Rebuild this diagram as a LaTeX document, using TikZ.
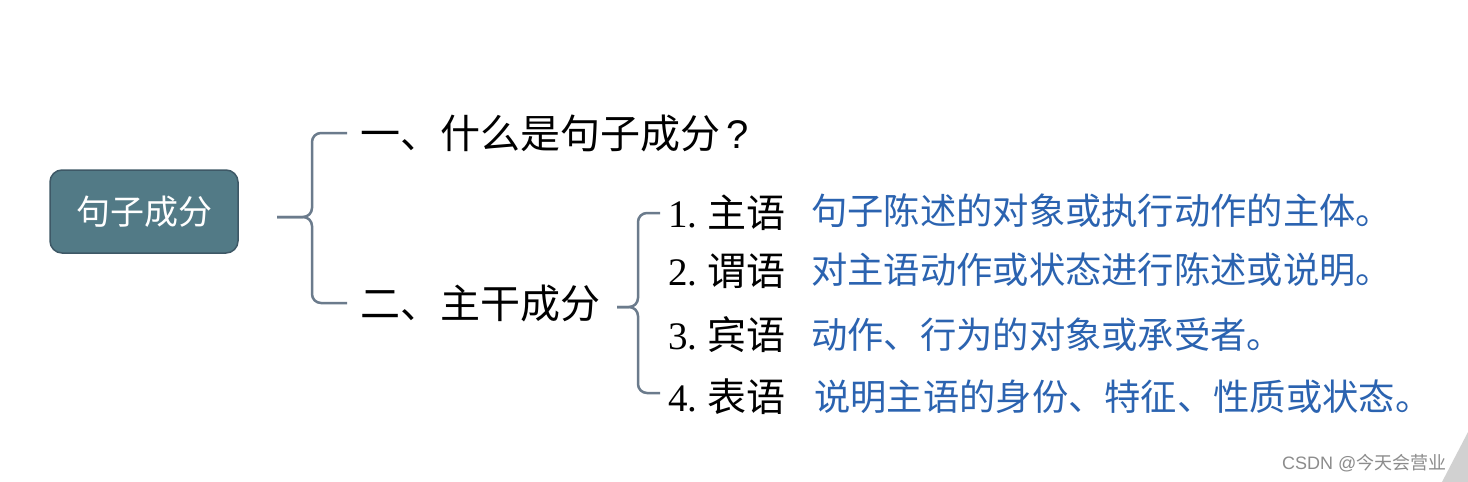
\documentclass[tikz,border=0pt]{standalone}
\usepackage{fontspec}
\setmainfont{Liberation Serif}
\newfontfamily\cjk{Noto Sans CJK SC}
\usetikzlibrary{positioning}

\definecolor{boxfill}{HTML}{527A86}
\definecolor{boxline}{HTML}{3E5866}
\definecolor{bracecol}{HTML}{6B7B8C}
\definecolor{desccol}{HTML}{2B63B0}

\begin{document}
\begin{tikzpicture}[x=1pt, y=-1pt,
    root/.style={draw=boxline, line width=1.5pt, fill=boxfill, rounded corners=12pt,
      minimum width=188pt, minimum height=83pt, text=white, font=\cjk\fontsize{34}{36}\selectfont},
    head/.style={anchor=west, inner sep=0pt, font=\cjk\fontsize{40}{42}\selectfont},
    item/.style={anchor=west, inner sep=0pt, font=\fontsize{39}{41}\selectfont},
    desc/.style={anchor=west, inner sep=0pt, text=desccol, font=\cjk\fontsize{36.3}{38}\selectfont},
    brace/.style={draw=bracecol, line width=2.5pt, rounded corners=9pt}]
  \useasboundingbox (0,0) rectangle (1468,482);
  \fill[white] (0,0) rectangle (1468,482);
  \fill[black!18] (1442,482) -- (1468,432) -- (1468,482) -- cycle;

  \node[root] (root) at (144,211.5) {句子成分};

  \node[head] (q1) at (360,133) {一、什么是句子成分\,\fontspec{Liberation Sans}?};
  \node[head] (q2) at (360,303) {二、主干成分};

  \node[item] (s1) at (668,213) {1.~{\cjk 主语}};
  \node[item] (s2) at (668,271) {2.~{\cjk 谓语}};
  \node[item] (s3) at (668,335) {3.~{\cjk 宾语}};
  \node[item] (s4) at (668,397) {4.~{\cjk 表语}};

  \node[desc] (d1) at (811,211) {句子陈述的对象或执行动作的主体。};
  \node[desc] (d2) at (811,270) {对主语动作或状态进行陈述或说明。};
  \node[desc] (d3) at (811,335) {动作、行为的对象或承受者。};
  \node[desc] (d4) at (814,397) {说明主语的身份、特征、性质或状态。};

  \node[anchor=west, inner sep=0pt, text=black!45, font=\fontsize{18}{20}\selectfont]
    (mark) at (1282,463) {\fontspec{Liberation Sans}CSDN @{\cjk 今天会营业}};

  % braces
  \coordinate (t1) at (277,217);
  \coordinate (b1) at (312,217);
  \draw[brace] ([xshift=-13pt]q1.west) -| (b1) -- (t1);
  \draw[brace] ([xshift=-13pt]q2.west) -| (b1) -- (t1);

  \coordinate (t2) at (617,307);
  \coordinate (b2) at (638,307);
  \draw[brace] ([xshift=-8pt]s1.west) -| (b2) -- (t2);
  \draw[brace] ([xshift=-8pt,yshift=4pt]s4.west) -| (b2) -- (t2);
\end{tikzpicture}
\end{document}
